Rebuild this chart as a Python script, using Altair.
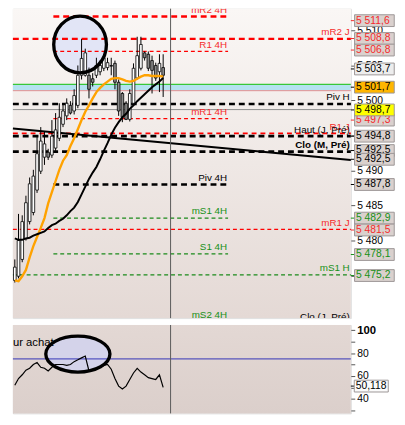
import altair as alt
import pandas as pd

F = "Liberation Sans"

# ---------------- data ----------------
opens = [5474.3, 5474.9, 5477.3, 5480.3, 5482.7, 5484.0, 5487.2, 5489.9, 5491.9, 5492.6,
         5492.2, 5493.2, 5494.6, 5496.6, 5497.8, 5499.3, 5498.5, 5499.3, 5503.6, 5503.6,
         5503.6, 5503.1, 5503.6, 5504.1, 5504.6, 5504.7, 5505.0, 5505.3, 5502.6, 5501.0,
         5499.6, 5497.3, 5499.6, 5503.2, 5504.6, 5506.8, 5506.6, 5505.7, 5505.0, 5504.1, 5504.7]
highs = [5477.3, 5483.8, 5483.6, 5486.4, 5489.0, 5490.1, 5494.9, 5496.2, 5495.5, 5493.1,
         5497.2, 5498.2, 5499.6, 5499.6, 5500.3, 5499.9, 5501.6, 5505.0, 5508.8, 5507.4,
         5504.7, 5503.9, 5506.1, 5505.7, 5506.6, 5506.1, 5506.1, 5505.7, 5503.0, 5501.2,
         5499.9, 5501.6, 5505.3, 5509.1, 5509.1, 5507.0, 5507.0, 5506.4, 5505.4, 5506.6, 5506.6]
lows = [5474.0, 5474.6, 5476.9, 5480.0, 5482.3, 5483.6, 5486.8, 5489.5, 5490.8, 5491.5,
        5491.8, 5492.8, 5494.2, 5496.2, 5497.2, 5498.0, 5498.0, 5498.9, 5503.0, 5503.4,
        5500.3, 5502.0, 5503.2, 5503.6, 5504.2, 5504.3, 5503.6, 5501.6, 5497.8, 5496.9,
        5497.2, 5497.0, 5499.3, 5503.0, 5504.3, 5505.7, 5504.2, 5501.0, 5502.8, 5501.2, 5500.5]
closes = [5476.2, 5480.0, 5482.7, 5485.4, 5488.1, 5489.2, 5492.4, 5494.2, 5493.8, 5491.9,
          5494.9, 5495.8, 5497.6, 5498.5, 5499.6, 5498.2, 5500.7, 5503.6, 5506.0, 5506.8,
          5501.6, 5502.6, 5505.0, 5505.0, 5506.1, 5505.4, 5504.9, 5502.6, 5498.5, 5497.6,
          5497.3, 5501.0, 5504.6, 5506.4, 5508.0, 5506.1, 5504.6, 5504.3, 5503.2, 5505.3, 5503.6]
ma_fast = [5474.3, 5474.2, 5474.9, 5475.8, 5477.6, 5479.2, 5480.5, 5481.8, 5483.2, 5485.3,
           5486.9, 5488.5, 5490.1, 5491.4, 5492.2, 5493.5, 5494.6, 5495.9, 5497.2, 5498.4,
           5499.3, 5500.3, 5501.2, 5501.8, 5502.3, 5502.7, 5503.1, 5503.2, 5503.2, 5503.0,
           5502.8, 5502.7, 5502.8, 5503.1, 5503.4, 5503.6, 5503.6, 5503.5, 5503.5, 5503.5, 5503.4]
ma_slow = [5480.3, 5480.1, 5480.1, 5480.3, 5480.4, 5480.7, 5480.9, 5481.1, 5481.3, 5481.8,
           5482.2, 5482.4, 5482.8, 5483.1, 5483.6, 5484.2, 5484.7, 5485.5, 5486.6, 5487.7,
           5488.8, 5489.7, 5490.5, 5491.6, 5492.8, 5493.9, 5495.1, 5496.1, 5496.9, 5497.6,
           5498.1, 5498.8, 5499.3, 5499.9, 5500.4, 5500.9, 5501.4, 5501.9, 5502.3, 5502.7, 5503.2]
osc = [52.0, 57.8, 61.1, 65.2, 66.8, 70.1, 71.8, 67.7, 66.8, 64.4,
       67.7, 70.1, 70.1, 70.1, 69.3, 70.1, 72.6, 74.2, 75.9, 77.5,
       64.4, 65.2, 66.0, 67.7, 69.3, 70.1, 66.0, 57.8, 51.2, 48.7,
       51.2, 57.0, 62.7, 66.8, 63.5, 61.1, 58.6, 57.8, 57.0, 61.1, 50.1]

# horizontal levels
level_price = [5512.0, 5508.8, 5507.0, 5499.5, 5497.4, 5495.3, 5494.9, 5492.7, 5488.0,
               5483.2, 5481.6, 5478.1, 5475.1]
level_scope = ["4H", "J", "4H", "H", "4H", "J", "J", "M", "4H", "4H", "J", "4H", "H"]
level_style = ["red_thick", "red_thick", "red_thin", "black_thick", "red_thin", "red_mid",
               "black_thick", "black_thick", "black_thick", "green_thin", "red_thin",
               "green_thin", "green_thin"]

label_text = ["mR2 4H", "mR2 J", "R1 4H", "Piv H", "mR1 4H", "R1 J", "Haut (J, Pré)",
              "Clo (M, Pré)", "Piv 4H", "mS1 4H", "mR1 J", "S1 4H", "mS1 H", "mS2 4H",
              "Clo (J, Pré)"]
label_price = [5512.0, 5508.8, 5507.0, 5499.5, 5497.4, 5495.3, 5494.9, 5492.7, 5488.0,
               5483.2, 5481.6, 5478.1, 5475.1, 5468.4, 5468.2]
label_scope = ["4H", "J", "4H", "H", "4H", "J", "J", "M", "4H", "4H", "J", "4H", "H", "4H", "J"]
label_kind = ["r", "r", "r", "k", "r", "r", "k", "kb", "k", "g", "r", "g", "g", "g", "k"]

box_text = ["5 511,6", "5 508,8", "5 506,8", "5 503,7", "5 501,7", "5 497,3", "5 498,7",
            "5 494,8", "5 492,5", "5 492,5", "5 487,8", "5 482,9", "5 481,5", "5 478,1", "5 475,2"]
box_pos = [5511.4, 5508.85, 5507.2, 5504.5, 5501.9, 5497.2, 5498.65, 5494.9, 5492.85,
           5491.6, 5488.0, 5483.2, 5481.5, 5478.0, 5475.0]
box_kind = ["r", "r", "r", "k", "k", "r", "k", "k", "k", "k", "k", "g", "r", "g", "g"]
box_fill = ["#dad1ce", "#dad1ce", "#dad1ce", "#ededed", "#ffb600", "#dad1ce", "#ffff00",
            "#dad1ce", "#dad1ce", "#dad1ce", "#dad1ce", "#dad1ce", "#dad1ce", "#dad1ce", "#dad1ce"]

band_top, band_bottom = 5502.3, 5501.4
gray_level = 5498.7
trend_i = [-0.51, 90.6]
trend_p = [5496.0, 5491.5]
cursor_i = 42
ellipse_main = (17.6, 5508.0)
ellipse_osc = (17.0, 79.2)
osc_level = 75
osc_last_text = "50,118"
osc_last_pos = 51.2
osc_title = "ur achat"
osc_title_v = 89.1

# ---------------- layout ----------------
W, H1, H2 = 344, 315, 90
XD = [-0.51, 90.6]
YD = [5468.92, 5513.11]
OD = [27.3, 104.7]
SCOPE_X = {"4H": (10.4, 57.5, 57.25)}
FULL = (XD[0], XD[1], 90.3)
COL = {"r": "#f52a2a", "k": "#000000", "kb": "#000000", "g": "#159015"}

xs = alt.Scale(domain=XD, nice=False, zero=False, padding=0)
ys = alt.Scale(domain=YD, nice=False, zero=False, padding=0)
osx = alt.Scale(domain=OD, nice=False, zero=False, padding=0)

main_axis = alt.Axis(orient="right", values=[5475, 5480, 5485, 5490, 5495, 5500, 5505, 5510],
                     labelExpr="replace(format(datum.value, ',.0f'), ',', ' ')",
                     title=None, grid=False, domain=False, tickSize=4, tickColor="#555555",
                     labelPadding=2, labelFont=F, labelFontSize=10.5, labelColor="black")
osc_axis = alt.Axis(orient="right", values=[30, 40, 50, 60, 70, 80, 90, 100],
                    labelExpr="datum.value % 20 == 0 ? datum.label : ''",
                    title=None, grid=False, domain=False, tickSize=4, tickColor="#555555",
                    labelPadding=2, labelFont=F, labelColor="black",
                    labelFontSize={"condition": {"test": "datum.value == 100", "value": 11.5}, "value": 10.5},
                    labelFontWeight={"condition": {"test": "datum.value == 100", "value": "bold"}, "value": "normal"})


def X(f):
    return alt.X(f, type="quantitative", scale=xs, axis=None)


def Y(f):
    return alt.Y(f, type="quantitative", scale=ys, axis=main_axis)


def YO(f):
    return alt.Y(f, type="quantitative", scale=osx, axis=osc_axis)


one = pd.DataFrame({"a": [0]})
cdf = pd.DataFrame({"i": list(range(len(opens))), "open": opens, "high": highs, "low": lows,
                    "close": closes, "fast": ma_fast, "slow": ma_slow})

lv = []
for p, s, st in zip(level_price, level_scope, level_style):
    x0, x1, _ = SCOPE_X.get(s, FULL)
    lv.append({"price": p, "x0": x0, "x1": x1, "style": st})
ldf = pd.DataFrame(lv)

lb = []
for t, p, s, k in zip(label_text, label_price, label_scope, label_kind):
    _, _, xe = SCOPE_X.get(s, FULL)
    lb.append({"text": t, "price": p, "xe": xe, "color": COL[k], "bold": k == "kb"})
lbdf = pd.DataFrame(lb)

bdf = pd.DataFrame({"k": list(range(len(box_text))), "text": box_text, "pos": box_pos,
                    "fg": [COL[k] for k in box_kind], "bg": box_fill})

STY = {
    "red_thick": ("#ff0000", 2.5, [6, 4]),
    "red_thin": ("#ff0000", 1.3, [4, 3]),
    "red_mid": ("#ff0000", 1.6, [5, 4]),
    "black_thick": ("#000000", 2.7, [6, 4]),
    "green_thin": ("#1a8a1a", 1.3, [4, 3]),
}

grad_main = alt.Gradient(gradient="linear", x1=0, x2=0, y1=0, y2=1,
                         stops=[alt.GradientStop(color="#faf7f5", offset=0),
                                alt.GradientStop(color="#e4d9d5", offset=1)])
grad_osc = alt.Gradient(gradient="linear", x1=0, x2=0, y1=0, y2=1,
                        stops=[alt.GradientStop(color="#e3d8d4", offset=0),
                               alt.GradientStop(color="#dbcfcb", offset=1)])

ELL_MAIN = "M -0.93 0 A 0.93 1 0 1 0 0.93 0 A 0.93 1 0 1 0 -0.93 0 Z"
ELL_OSC = "M -1 0 A 1 0.56 0 1 0 1 0 A 1 0.56 0 1 0 -1 0 Z"
BOX = "M -1 -0.297 L 1 -0.297 L 1 0.297 L -1 0.297 Z"
BOX_S = "M -1 -0.347 L 1 -0.347 L 1 0.347 L -1 0.347 Z"

# ---------------- main panel ----------------
layers = []
layers.append(alt.Chart(one).mark_rect(fill=grad_main).encode(
    x=alt.value(0), x2=alt.value(W), y=alt.value(0), y2=alt.value(H1)))

edf = pd.DataFrame({"i": [ellipse_main[0]], "p": [ellipse_main[1]]})
layers.append(alt.Chart(edf).mark_point(shape=ELL_MAIN, size=3330, filled=True, fill="#e2e5f6",
                                        strokeWidth=0, opacity=1).encode(x=X("i"), y=Y("p")))

banddf = pd.DataFrame({"top": [band_top], "bot": [band_bottom]})
layers.append(alt.Chart(banddf).mark_rect(fill="#b4e2f0").encode(
    x=alt.value(0), x2=alt.value(W), y=Y("top"), y2=alt.Y2("bot")))
layers.append(alt.Chart(banddf).mark_rule(color="#e49090", strokeWidth=1).encode(
    x=alt.value(0), x2=alt.value(W), y=Y("bot")))
layers.append(alt.Chart(banddf).mark_rule(color="#38c838", strokeWidth=1.5).encode(
    x=alt.value(0), x2=alt.value(W), y=Y("top")))
layers.append(alt.Chart(pd.DataFrame({"p": [gray_level]})).mark_rule(color="#8c8c8c", strokeWidth=1).encode(
    x=alt.value(0), x2=alt.value(W), y=Y("p")))

for st, (c, w, d) in STY.items():
    layers.append(alt.Chart(ldf).transform_filter(f"datum.style == '{st}'").mark_rule(
        color=c, strokeWidth=w, strokeDash=d).encode(x=X("x0"), x2=alt.X2("x1"), y=Y("price")))

tdf = pd.DataFrame({"i": trend_i, "p": trend_p})
layers.append(alt.Chart(tdf).mark_line(color="black", strokeWidth=2).encode(x=X("i"), y=Y("p")))

layers.append(alt.Chart(cdf).mark_rule(color="black", strokeWidth=1).encode(
    x=X("i"), y=Y("low"), y2=alt.Y2("high")))
layers.append(alt.Chart(cdf).mark_bar(size=2.7, stroke="black", strokeWidth=0.8).encode(
    x=X("i"), y=Y("open"), y2=alt.Y2("close"),
    fill=alt.condition("datum.close >= datum.open", alt.value("white"), alt.value("#8a8a8a"))))
layers.append(alt.Chart(cdf).mark_line(color="#ffa200", strokeWidth=2.4).encode(x=X("i"), y=Y("fast")))
layers.append(alt.Chart(cdf).mark_line(color="black", strokeWidth=2).encode(x=X("i"), y=Y("slow")))

layers.append(alt.Chart(edf).mark_point(shape=ELL_MAIN, size=3330, filled=False, stroke="black",
                                        strokeWidth=3.4, opacity=1).encode(x=X("i"), y=Y("p")))

for bold in (False, True):
    layers.append(alt.Chart(lbdf).transform_filter(
        "datum.bold" if bold else "!datum.bold").mark_text(
        align="right", baseline="middle", dy=-6.7, clip=True, font=F, fontSize=10,
        fontWeight="bold" if bold else "normal").encode(
        x=X("xe"), y=Y("price"), text="text:N", color=alt.Color("color:N", scale=None)))

layers.append(alt.Chart(pd.DataFrame({"i": [cursor_i]})).mark_rule(color="#5a5a5a", strokeWidth=1).encode(x=X("i")))

for k in range(len(box_text)):
    b = alt.Chart(bdf).transform_filter(f"datum.k == {k}")
    layers.append(b.mark_rule(strokeWidth=1).encode(
        x=alt.value(W), x2=alt.value(W + 4), y=Y("pos"), color=alt.Color("fg:N", scale=None)))
    layers.append(b.mark_point(shape=BOX, size=1632, filled=True, stroke="#9c9696",
                               strokeWidth=1, opacity=1).encode(
        x=alt.value(W + 24), y=Y("pos"), fill=alt.Fill("bg:N", scale=None)))
    layers.append(b.mark_text(align="left", baseline="middle", font=F, fontSize=10.5).encode(
        x=alt.value(W + 5.3), y=Y("pos"), text="text:N", color=alt.Color("fg:N", scale=None)))

main = alt.layer(*layers).properties(width=W, height=H1)

# ---------------- oscillator panel ----------------
odf = pd.DataFrame({"i": list(range(len(osc))), "v": osc})
oel = pd.DataFrame({"i": [ellipse_osc[0]], "v": [ellipse_osc[1]]})
olast = pd.DataFrame({"v": [osc_last_pos], "text": [osc_last_text]})
otitle = pd.DataFrame({"v": [osc_title_v], "text": [osc_title]})

ol = []
ol.append(alt.Chart(one).mark_rect(fill=grad_osc).encode(
    x=alt.value(0), x2=alt.value(W), y=alt.value(0), y2=alt.value(H2)))
ol.append(alt.Chart(oel).mark_point(shape=ELL_OSC, size=4264, filled=True, fill="#d4d3ea",
                                    strokeWidth=0, opacity=1).encode(x=X("i"), y=YO("v")))
ol.append(alt.Chart(pd.DataFrame({"v": [osc_level]})).mark_rule(color="#3232b8", strokeWidth=1).encode(
    x=alt.value(0), x2=alt.value(W), y=YO("v")))
ol.append(alt.Chart(odf).mark_line(color="black", strokeWidth=1.2).encode(x=X("i"), y=YO("v")))
ol.append(alt.Chart(oel).mark_point(shape=ELL_OSC, size=4264, filled=False, stroke="black",
                                    strokeWidth=3.4, opacity=1).encode(x=X("i"), y=YO("v")))
ol.append(alt.Chart(otitle).mark_text(align="left", baseline="middle", font=F,
                                      fontSize=11.5, color="black").encode(
    x=alt.value(0), y=YO("v"), text="text:N"))
ol.append(alt.Chart(pd.DataFrame({"i": [cursor_i]})).mark_rule(color="#5a5a5a", strokeWidth=1).encode(x=X("i")))
ol.append(alt.Chart(olast).mark_rule(color="black", strokeWidth=1).encode(
    x=alt.value(W), x2=alt.value(W + 4), y=YO("v")))
ol.append(alt.Chart(olast).mark_point(shape=BOX_S, size=1197, filled=True, fill="#fbfbfb",
                                      stroke="#9c9696", strokeWidth=1, opacity=1).encode(
    x=alt.value(W + 20.8), y=YO("v")))
ol.append(alt.Chart(olast).mark_text(align="left", baseline="middle", font=F, fontSize=10.5,
                                     color="black").encode(
    x=alt.value(W + 5), y=YO("v"), text="text:N"))

lower = alt.layer(*ol).properties(width=W, height=H2)

chart = alt.vconcat(main, lower, spacing=4).properties(
    padding={"top": -4, "left": 0, "right": 0, "bottom": 0}).configure_view(
    stroke="#9a9a9a", strokeWidth=1).configure(font=F)

chart.save("out.html", embed_options={"renderer": "svg", "actions": False})
